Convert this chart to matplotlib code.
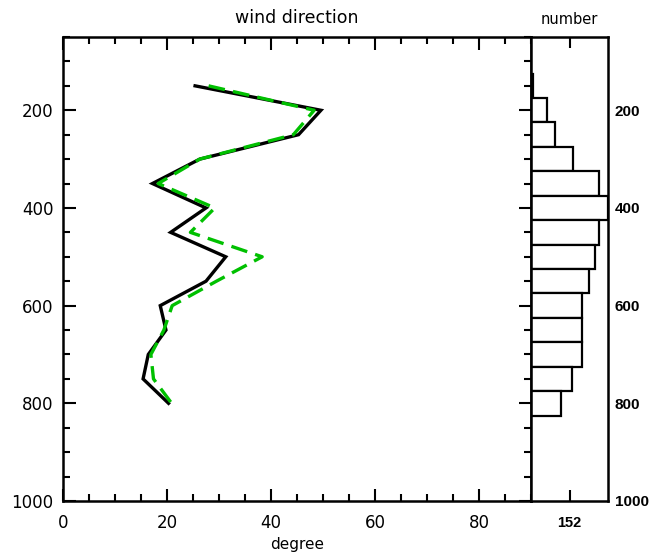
import matplotlib
matplotlib.use("Agg")
import matplotlib.pyplot as plt
from matplotlib.ticker import MultipleLocator

# levels (y axis, inverted) and wind direction profiles
levels = [150, 200, 250, 300, 350, 400, 450, 500, 550, 600, 650, 700, 750, 800]
dir_black = [25.4, 49.6, 45.3, 26.3, 17.2, 27.5, 20.7, 31.3, 27.5, 18.7, 19.8, 16.4, 15.4, 20.3]
dir_green = [28.0, 48.3, 44.3, 26.3, 18.3, 29.2, 24.5, 38.3, 29.5, 21.0, 19.4, 16.9, 17.4, 20.9]

# number of samples per level
counts = [9, 62, 96, 165, 268, 304, 267, 251, 229, 201, 201, 201, 163, 119]
count_max = 304

plt.rcParams['font.family'] = 'DejaVu Sans'

fig = plt.figure(figsize=(6.51, 5.57), dpi=100)
ax = fig.add_axes([63 / 651, 1 - 501 / 557, (531 - 63) / 651, (501 - 37) / 557])
axh = fig.add_axes([531 / 651, 1 - 501 / 557, (608 - 531) / 651, (501 - 37) / 557])

ax.plot(dir_black, levels, color='black', lw=2.4, solid_joinstyle='miter')
ax.plot(dir_green, levels, color='#00c000', lw=2.4, ls=(0, (5, 2.5)))

ax.set_xlim(0, 90)
ax.set_ylim(1000, 50)
ax.xaxis.set_major_locator(MultipleLocator(20))
ax.xaxis.set_minor_locator(MultipleLocator(5))
ax.yaxis.set_major_locator(MultipleLocator(200))
ax.yaxis.set_minor_locator(MultipleLocator(50))
ax.tick_params(which='both', direction='in', top=True, right=True, width=1.5,
               labelsize=12, pad=7)
ax.tick_params(axis='x', pad=9)
ax.tick_params(which='major', length=9)
ax.tick_params(which='minor', length=5)
ax.set_xticks([0, 20, 40, 60, 80])
for s in ax.spines.values():
    s.set_linewidth(1.8)
ax.set_title('wind direction', fontsize=12.5, pad=10)
ax.set_xlabel('degree', fontsize=11, labelpad=4)

axh.barh(levels, counts, height=50, color='white', edgecolor='black', lw=1.6)
axh.set_xlim(0, count_max)
axh.set_ylim(1000, 50)
axh.set_xticks([count_max / 2])
axh.set_xticklabels(['152'], fontweight='bold', family='Liberation Sans')
axh.yaxis.set_major_locator(MultipleLocator(200))
axh.yaxis.set_minor_locator(MultipleLocator(50))
axh.tick_params(axis='x', direction='in', top=True, length=8, width=1.5,
                labelsize=10.5, pad=11)
axh.tick_params(axis='y', which='both', left=False, right=False, labelleft=False,
                labelright=True, labelsize=11, pad=1.5)
for lbl in axh.get_yticklabels():
    lbl.set_fontweight('bold')
    lbl.set_family('Liberation Sans')
for s in axh.spines.values():
    s.set_linewidth(1.8)
axh.set_title('number', fontsize=10.5, pad=9)

fig.savefig('out.png', dpi=100)
